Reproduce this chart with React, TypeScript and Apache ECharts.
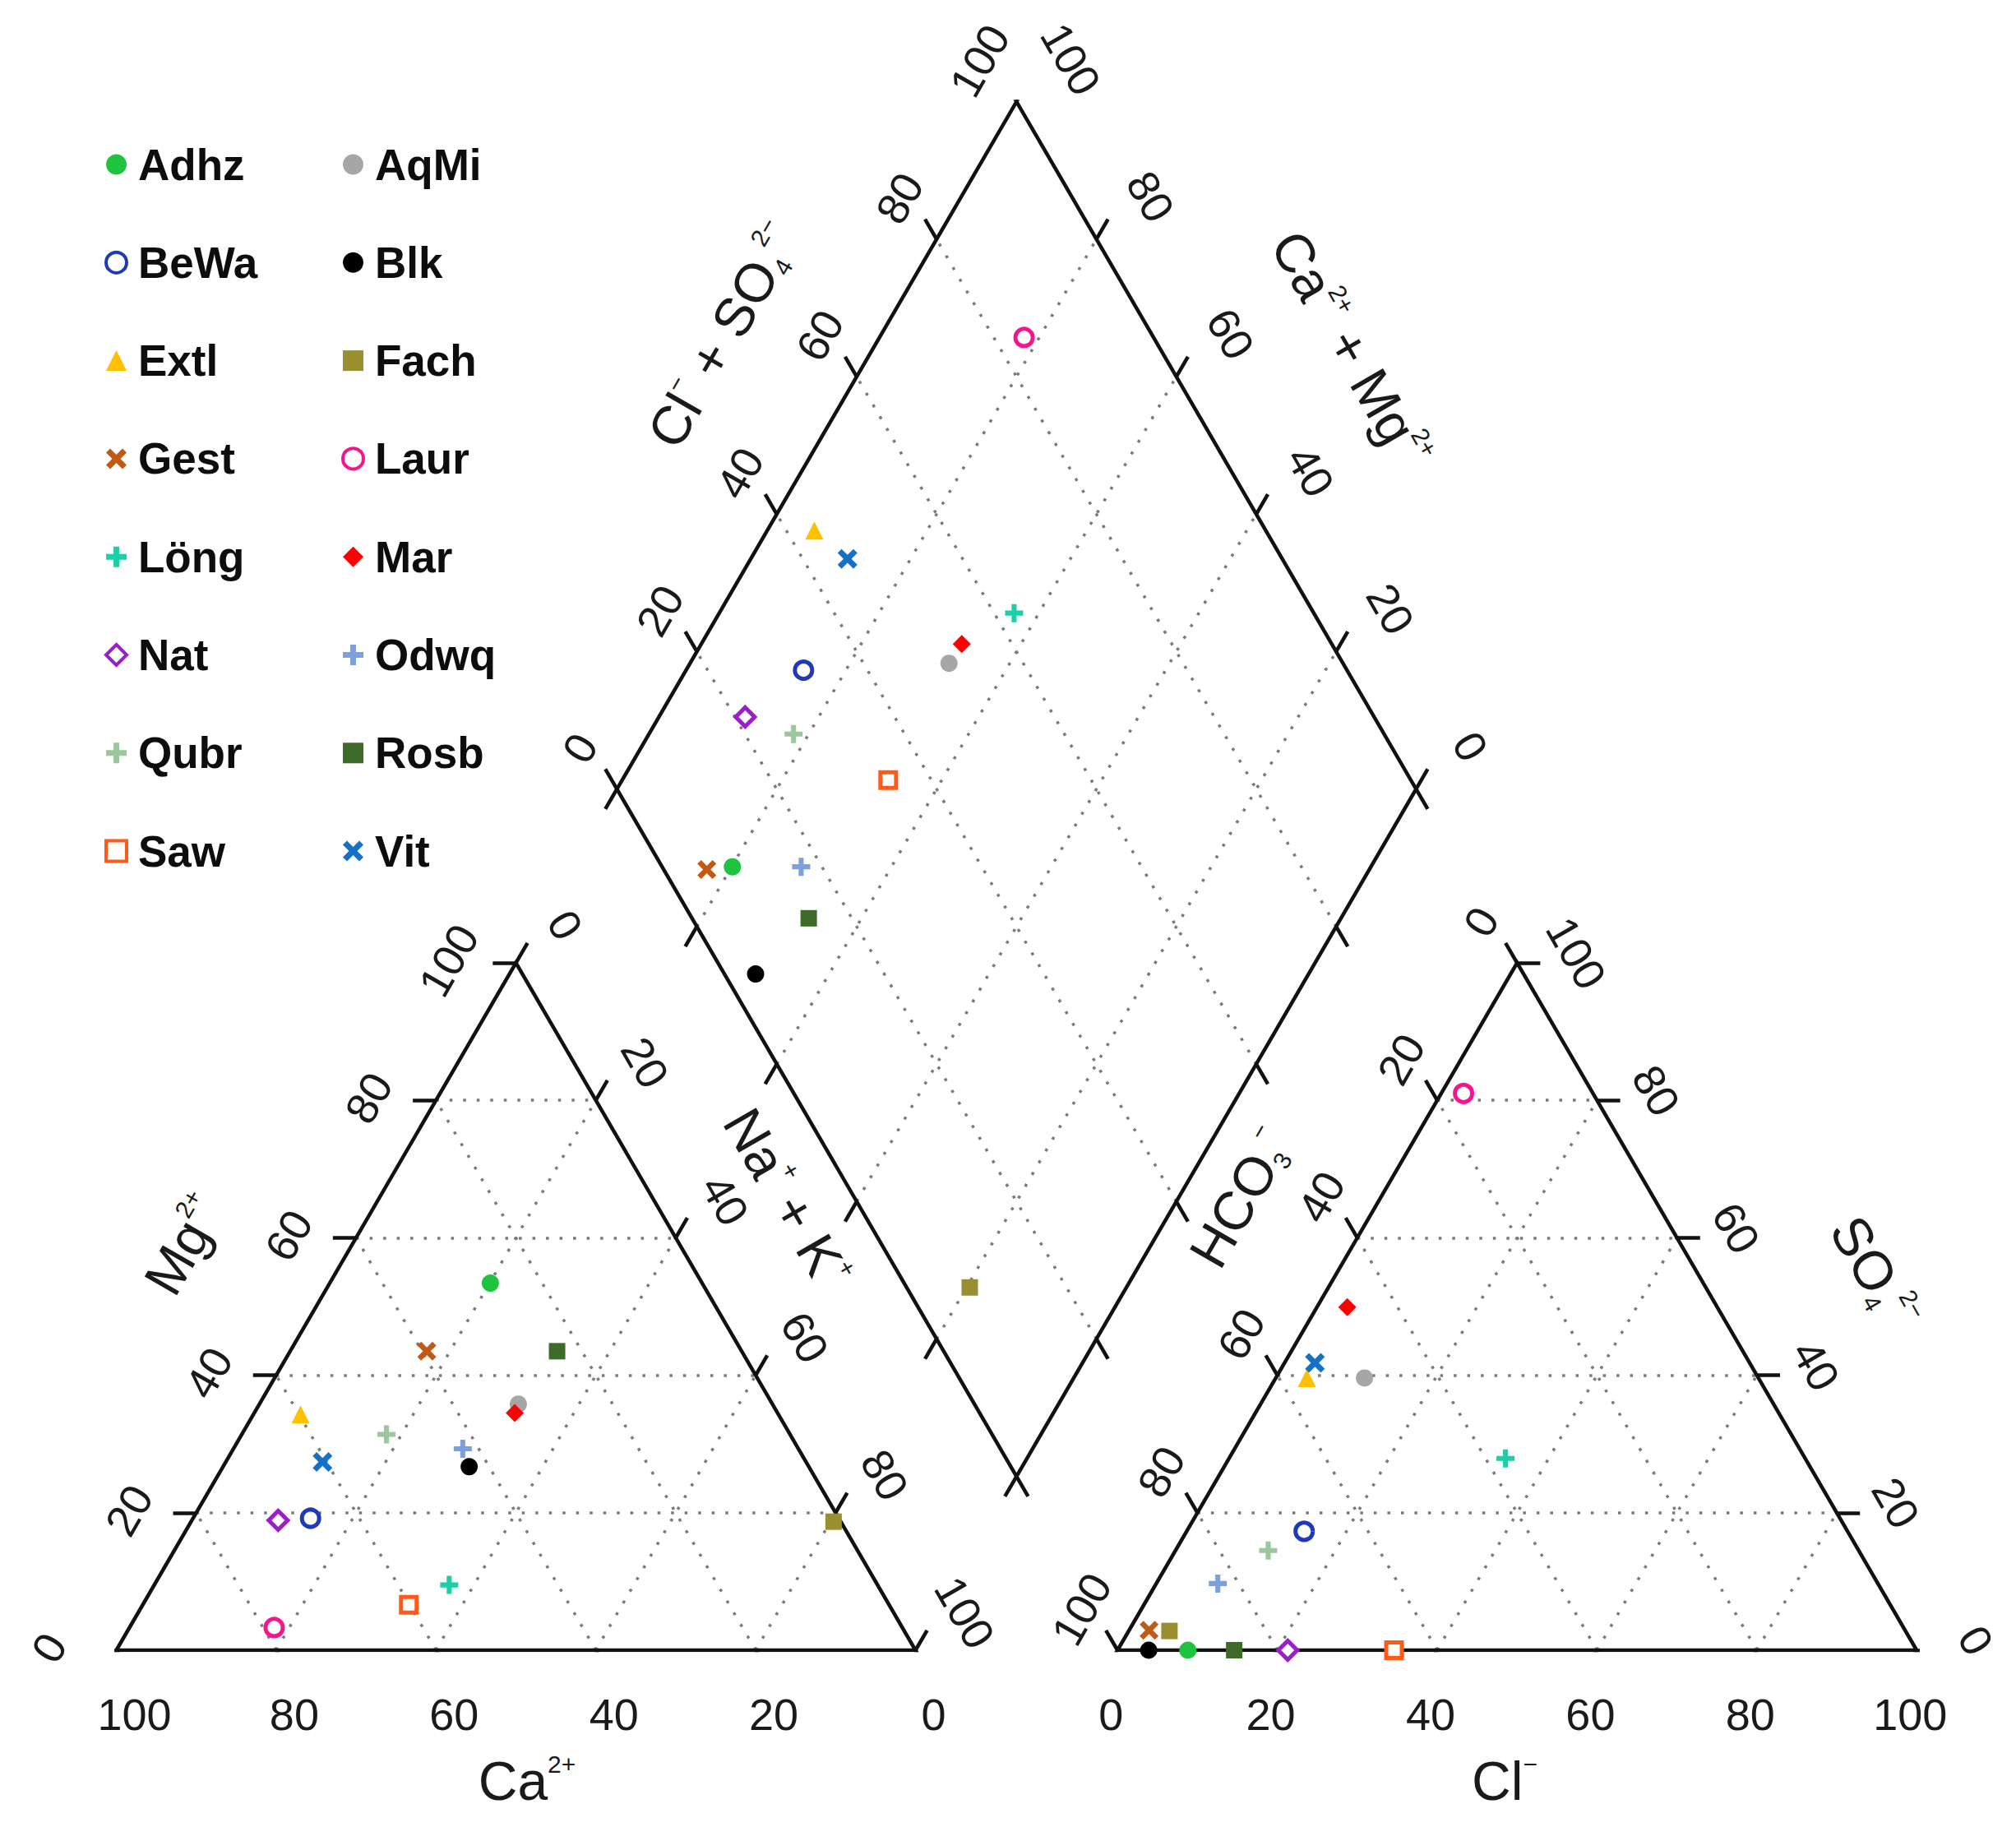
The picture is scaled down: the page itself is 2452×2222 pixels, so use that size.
import React, { useEffect, useRef } from "react";
import * as echarts from "echarts";

// ---------------- data (percent of meq) ----------------
const samples = ["Adhz", "AqMi", "BeWa", "Blk", "Extl", "Fach", "Gest", "Laur", "Löng", "Mar", "Nat", "Odwq", "Qubr", "Rosb", "Saw", "Vit"];
// cations
const caPct = [26.5, 31.8, 66.1, 42.5, 59.8, 0.9, 39.4, 78.6, 53.6, 32.9, 70.3, 42.0, 50.5, 23.1, 60.1, 60.5];
const mgPct = [53.4, 35.8, 19.2, 26.7, 34.3, 18.7, 43.5, 3.3, 9.5, 34.5, 18.9, 29.3, 31.4, 43.5, 6.6, 27.4];
const naKPct = [20.1, 32.4, 14.7, 30.8, 5.9, 80.4, 17.1, 18.1, 36.9, 32.6, 10.8, 28.7, 18.1, 33.4, 33.3, 12.1];
// anions
const clPct = [8.8, 11.1, 14.7, 3.9, 3.9, 5.1, 2.5, 2.8, 34.6, 3.8, 21.3, 7.7, 11.6, 14.6, 34.6, 3.8];
const so4Pct = [0, 39.6, 17.3, 0, 39.6, 2.8, 2.9, 81.0, 27.9, 49.9, 0, 9.7, 14.5, 0, 0, 41.8];
const hco3Pct = [91.2, 49.3, 68.0, 96.1, 56.5, 92.1, 94.6, 16.2, 37.5, 46.3, 78.7, 82.6, 73.9, 85.4, 65.4, 54.4];

const tickValues = [0, 20, 40, 60, 80, 100];
const gridValues = [20, 40, 60, 80];
const legendCol1 = ["Adhz", "BeWa", "Extl", "Gest", "Löng", "Nat", "Qubr", "Saw"];
const legendCol2 = ["AqMi", "Blk", "Fach", "Laur", "Mar", "Odwq", "Rosb", "Vit"];

// ---------------- styles ----------------
const FONT = "'Liberation Sans', Arial, Helvetica, sans-serif";
const PLUS = "path://M6.5,0H11.5V6.5H18V11.5H11.5V18H6.5V11.5H0V6.5H6.5Z";
const CROSS = "path://M0,2L2,0L5,3L8,0L10,2L7,5L10,8L8,10L5,7L2,10L0,8L3,5Z";

const markerStyle: Record<string, { symbol: string; size: number; color: string; open?: boolean }> = {
  Adhz: { symbol: "circle", size: 21, color: "#1fc43e" },
  AqMi: { symbol: "circle", size: 21, color: "#a6a6a6" },
  BeWa: { symbol: "circle", size: 21, color: "#1f3ab8", open: true },
  Blk: { symbol: "circle", size: 21, color: "#000000" },
  Extl: { symbol: "triangle", size: 22, color: "#ffc000" },
  Fach: { symbol: "rect", size: 20, color: "#9a8f30" },
  Gest: { symbol: CROSS, size: 23, color: "#c05a14" },
  Laur: { symbol: "circle", size: 21, color: "#f7158f", open: true },
  "Löng": { symbol: PLUS, size: 22, color: "#1ccfa6" },
  Mar: { symbol: "diamond", size: 22, color: "#ff0000" },
  Nat: { symbol: "diamond", size: 23, color: "#9a1fc9", open: true },
  Odwq: { symbol: PLUS, size: 22, color: "#7ca0dc" },
  Qubr: { symbol: PLUS, size: 22, color: "#9cc69c" },
  Rosb: { symbol: "rect", size: 20, color: "#3e6b2a" },
  Saw: { symbol: "rect", size: 19, color: "#ff5a1a", open: true },
  Vit: { symbol: CROSS, size: 24, color: "#1670c6" },
};

// ---------------- geometry (ternary units, side = 100) ----------------
const GAP = 25.28;
const H = Math.sqrt(3) / 2;
const XR = 100 + GAP;
const BX = 100 + GAP / 2;
const BY = GAP * H;
const X_MAX = 200 + GAP;
const Y_MAX = (GAP + 200) * H;

type P = [number, number];
// r: toward bottom-right vertex, t: toward apex
const ptL = (r: number, t: number): P => [r + t / 2, t * H];
const ptR = (r: number, t: number): P => [XR + r + t / 2, t * H];
// s: Ca+Mg, t: Cl+SO4
const ptD = (s: number, t: number): P => [BX + (t - s) / 2, BY + (s + t) * H];

const UL: P = [-0.5, H];
const UR: P = [0.5, H];
const DL: P = [-0.5, -H];
const DR: P = [0.5, -H];
const LEFT: P = [-1, 0];
const RIGHT: P = [1, 0];
const TL = 2.9;

const seg = (a: P, b: P) => ({ coords: [a, b] });
const tick = (p: P, d: P) => seg(p, [p[0] + d[0] * TL, p[1] + d[1] * TL]);

function buildGrid() {
  const out: any[] = [];
  for (const k of gridValues) {
    out.push(seg(ptL(0, k), ptL(100 - k, k)));
    out.push(seg(ptL(k, 0), ptL(k, 100 - k)));
    out.push(seg(ptL(100 - k, 0), ptL(0, 100 - k)));
    out.push(seg(ptR(0, k), ptR(100 - k, k)));
    out.push(seg(ptR(k, 0), ptR(k, 100 - k)));
    out.push(seg(ptR(100 - k, 0), ptR(0, 100 - k)));
    out.push(seg(ptD(k, 0), ptD(k, 100)));
    out.push(seg(ptD(0, k), ptD(100, k)));
  }
  return out;
}

function buildTicks() {
  const out: any[] = [];
  for (const k of tickValues) {
    out.push(tick(ptL(0, k), LEFT));
    out.push(tick(ptL(100 - k, 0), DR));
    out.push(tick(ptL(k, 100 - k), UR));
    out.push(tick(ptR(k, 0), DL));
    out.push(tick(ptR(0, 100 - k), UL));
    out.push(tick(ptR(100 - k, k), RIGHT));
    out.push(tick(ptD(100, k), UL));
    out.push(tick(ptD(k, 100), UR));
    out.push(tick(ptD(k, 0), DL));
    out.push(tick(ptD(0, k), DR));
  }
  return out;
}

const frames = [
  { coords: [ptL(0, 0), ptL(100, 0), ptL(0, 100), ptL(0, 0)] },
  { coords: [ptR(0, 0), ptR(100, 0), ptR(0, 100), ptR(0, 0)] },
  { coords: [ptD(0, 0), ptD(100, 0), ptD(100, 100), ptD(0, 100), ptD(0, 0)] },
];

function samplePoints(i: number): P[] {
  const cs = caPct[i] + mgPct[i] + naKPct[i];
  const na = (naKPct[i] / cs) * 100;
  const mg = (mgPct[i] / cs) * 100;
  const as = clPct[i] + so4Pct[i] + hco3Pct[i];
  const cl = (clPct[i] / as) * 100;
  const so4 = (so4Pct[i] / as) * 100;
  return [ptL(na, mg), ptR(cl, so4), ptD(100 - na, cl + so4)];
}

// tick label groups: anchor function, pixel offset, rotation (deg)
const labelGroups: { at: (k: number) => P; dx: number; dy: number; rot: number }[] = [
  { at: (k) => ptL(100 - k, 0), dx: 22, dy: 78, rot: 0 }, // Ca
  { at: (k) => ptL(0, k), dx: -82, dy: -3, rot: 60 }, // Mg
  { at: (k) => ptL(k, 100 - k), dx: 60, dy: -46, rot: -60 }, // Na+K
  { at: (k) => ptR(k, 0), dx: -8, dy: 78, rot: 0 }, // Cl
  { at: (k) => ptR(0, 100 - k), dx: -44, dy: -50, rot: 60 }, // HCO3
  { at: (k) => ptR(100 - k, k), dx: 72, dy: -12, rot: -60 }, // SO4
  { at: (k) => ptD(100, k), dx: -45, dy: -50, rot: 60 }, // Cl+SO4
  { at: (k) => ptD(k, 100), dx: 66, dy: -52, rot: -60 }, // Ca+Mg
];

const titles: { text: string; x: number; y: number; rot: number }[] = [
  { text: "Ca{sup|2+}", x: 641, y: 2166, rot: 0 },
  { text: "Cl{sup|−}", x: 1830, y: 2166, rot: 0 },
  { text: "Mg{sup|2+}", x: 224, y: 1514, rot: 60 },
  { text: "Na{sup|+} + K{sup|+}", x: 957, y: 1457, rot: -60 },
  { text: "HCO{sub|3}{sup|−}", x: 1509, y: 1457, rot: 60 },
  { text: "SO{sub|4}{sup|2−}", x: 2280, y: 1548, rot: -60 },
  { text: "Cl{sup|−} + SO{sub|4}{sup|2−}", x: 880, y: 408, rot: 60 },
  { text: "Ca{sup|2+} + Mg{sup|2+}", x: 1643, y: 425, rot: -60 },
];

function legendFor(names: string[], left: number) {
  return {
    orient: "vertical",
    left,
    top: 165,
    itemWidth: 25,
    itemHeight: 25,
    itemGap: 59.3,
    selectedMode: false,
    data: names.map((n) => {
      const m = markerStyle[n];
      return {
        name: n,
        icon: m.symbol,
        itemStyle: m.open
          ? { color: "#ffffff", borderColor: m.color, borderWidth: 4, opacity: 1 }
          : { color: m.color, borderWidth: 0, opacity: 1 },
      };
    }),
    textStyle: {
      fontSize: 53,
      fontWeight: "bold",
      fontFamily: FONT,
      color: "#0d0d0d",
      padding: [0, 0, 0, 9],
      lineHeight: 60,
    },
  };
}

export default function App() {
  const ref = useRef<HTMLDivElement>(null);

  useEffect(() => {
    if (!ref.current) return;
    const chart = echarts.init(ref.current, null, { renderer: "svg" });

    const scatterSeries = samples.map((name, i) => {
      const m = markerStyle[name];
      return {
        type: "scatter",
        name,
        data: samplePoints(i),
        symbol: m.symbol,
        symbolSize: m.size,
        symbolKeepAspect: true,
        silent: true,
        z: 10,
        itemStyle: m.open
          ? { color: "#ffffff", borderColor: m.color, borderWidth: 5, opacity: 1 }
          : { color: m.color, borderWidth: 0, opacity: 1 },
        emphasis: { disabled: true },
      };
    });

    chart.setOption({
      animation: false,
      backgroundColor: "#ffffff",
      grid: { left: 141.5, top: 123.7, width: 2189.7, height: 1883.3 },
      xAxis: { type: "value", min: 0, max: X_MAX, show: false },
      yAxis: { type: "value", min: 0, max: Y_MAX, show: false },
      legend: [legendFor(legendCol1, 122), legendFor(legendCol2, 410)],
      series: [
        {
          type: "lines",
          coordinateSystem: "cartesian2d",
          silent: true,
          z: 1,
          data: buildGrid(),
          lineStyle: { color: "#7a7a7a", width: 3.5, type: [3.5, 13], cap: "butt", opacity: 1, curveness: 0 },
        },
        {
          type: "lines",
          coordinateSystem: "cartesian2d",
          silent: true,
          z: 2,
          data: buildTicks(),
          lineStyle: { color: "#111111", width: 4.5, opacity: 1, curveness: 0 },
        },
        {
          type: "lines",
          coordinateSystem: "cartesian2d",
          polyline: true,
          silent: true,
          z: 3,
          data: frames,
          lineStyle: { color: "#111111", width: 4.5, opacity: 1, join: "miter" },
        },
        ...scatterSeries,
      ],
    });

    const toPx = (p: P) => chart.convertToPixel({ gridIndex: 0 }, p) as number[];
    const elements: any[] = [];
    for (const g of labelGroups) {
      for (const k of tickValues) {
        const px = toPx(g.at(k));
        elements.push({
          type: "text",
          x: px[0] + g.dx,
          y: px[1] + g.dy,
          rotation: (g.rot * Math.PI) / 180,
          silent: true,
          style: {
            text: String(k),
            fontSize: 54,
            fontFamily: FONT,
            fill: "#1a1a1a",
            align: "center",
            verticalAlign: "middle",
            textAlign: "center",
            textVerticalAlign: "middle",
          },
        });
      }
    }
    for (const t of titles) {
      elements.push({
        type: "text",
        x: t.x,
        y: t.y,
        rotation: (t.rot * Math.PI) / 180,
        silent: true,
        style: {
          text: t.text,
          fontSize: 66,
          fontFamily: FONT,
          fill: "#1a1a1a",
          lineHeight: 72,
          align: "center",
          verticalAlign: "middle",
          textAlign: "center",
          textVerticalAlign: "middle",
          rich: {
            sup: { fontSize: 30, lineHeight: 30, verticalAlign: "top", fontFamily: FONT, fill: "#1a1a1a" },
            sub: { fontSize: 30, lineHeight: 30, verticalAlign: "bottom", fontFamily: FONT, fill: "#1a1a1a" },
          },
        },
      });
    }
    chart.setOption({ graphic: { elements } });

    return () => chart.dispose();
  }, []);

  return (
    <div
      ref={ref}
      style={{ position: "absolute", left: 0, top: 0, width: 2452, height: 2222, background: "#ffffff" }}
    />
  );
}
